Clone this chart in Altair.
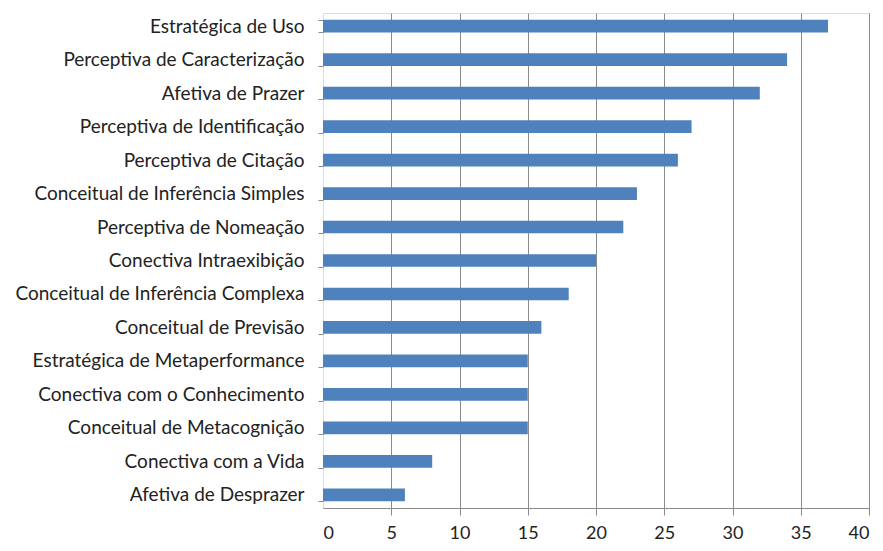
import altair as alt
import pandas as pd

categories = [
    "Estratégica de Uso",
    "Perceptiva de Caracterização",
    "Afetiva de Prazer",
    "Perceptiva de Identificação",
    "Perceptiva de Citação",
    "Conceitual de Inferência Simples",
    "Perceptiva de Nomeação",
    "Conectiva Intraexibição",
    "Conceitual de Inferência Complexa",
    "Conceitual de Previsão",
    "Estratégica de Metaperformance",
    "Conectiva com o Conhecimento",
    "Conceitual de Metacognição",
    "Conectiva com a Vida",
    "Afetiva de Desprazer",
]
values = [37, 34, 32, 27, 26, 23, 22, 20, 18, 16, 15, 15, 15, 8, 6]
x_ticks = [0, 5, 10, 15, 20, 25, 30, 35, 40]

df = pd.DataFrame({"cat": categories, "val": values})

FONT = "Lato"

chart = (
    alt.Chart(df)
    .mark_bar(color="#4F81BD")
    .encode(
        x=alt.X(
            "val:Q",
            scale=alt.Scale(domain=[0, 40], nice=False),
            axis=alt.Axis(
                title=None,
                values=x_ticks,
                grid=True,
                gridColor="#8a8a8a",
                gridOpacity={"condition": {"test": "datum.value === 0", "value": 0}, "value": 1},
                domainColor="#8a8a8a",
                tickColor="#8a8a8a",
                tickOpacity={"condition": {"test": "datum.value === 0", "value": 0}, "value": 1},
                tickSize=7,
                labelPadding=9,
                labelFont=FONT,
                labelFontSize=18,
                labelColor="#222222",
            ),
        ),
        y=alt.Y(
            "cat:N",
            sort=categories,
            scale=alt.Scale(paddingInner=0.62, paddingOuter=0.2),
            axis=alt.Axis(
                title=None,
                domain=False,
                ticks=True,
                tickBand="extent",
                tickColor="#8a8a8a",
                tickSize=5,
                grid=False,
                labelPadding=14,
                labelFont=FONT,
                labelFontSize=19,
                labelColor="#222222",
                labelLimit=400,
            ),
        ),
    )
    .properties(
        width=546,
        height=495,
        autosize=alt.AutoSizeParams(type="none"),
        padding={"left": 315, "top": 5, "right": 6, "bottom": 35},
    )
    .configure_view(stroke=None)
    .configure(background="white")
)

chart.save("out.html", embed_options={"renderer": "svg", "actions": False})
